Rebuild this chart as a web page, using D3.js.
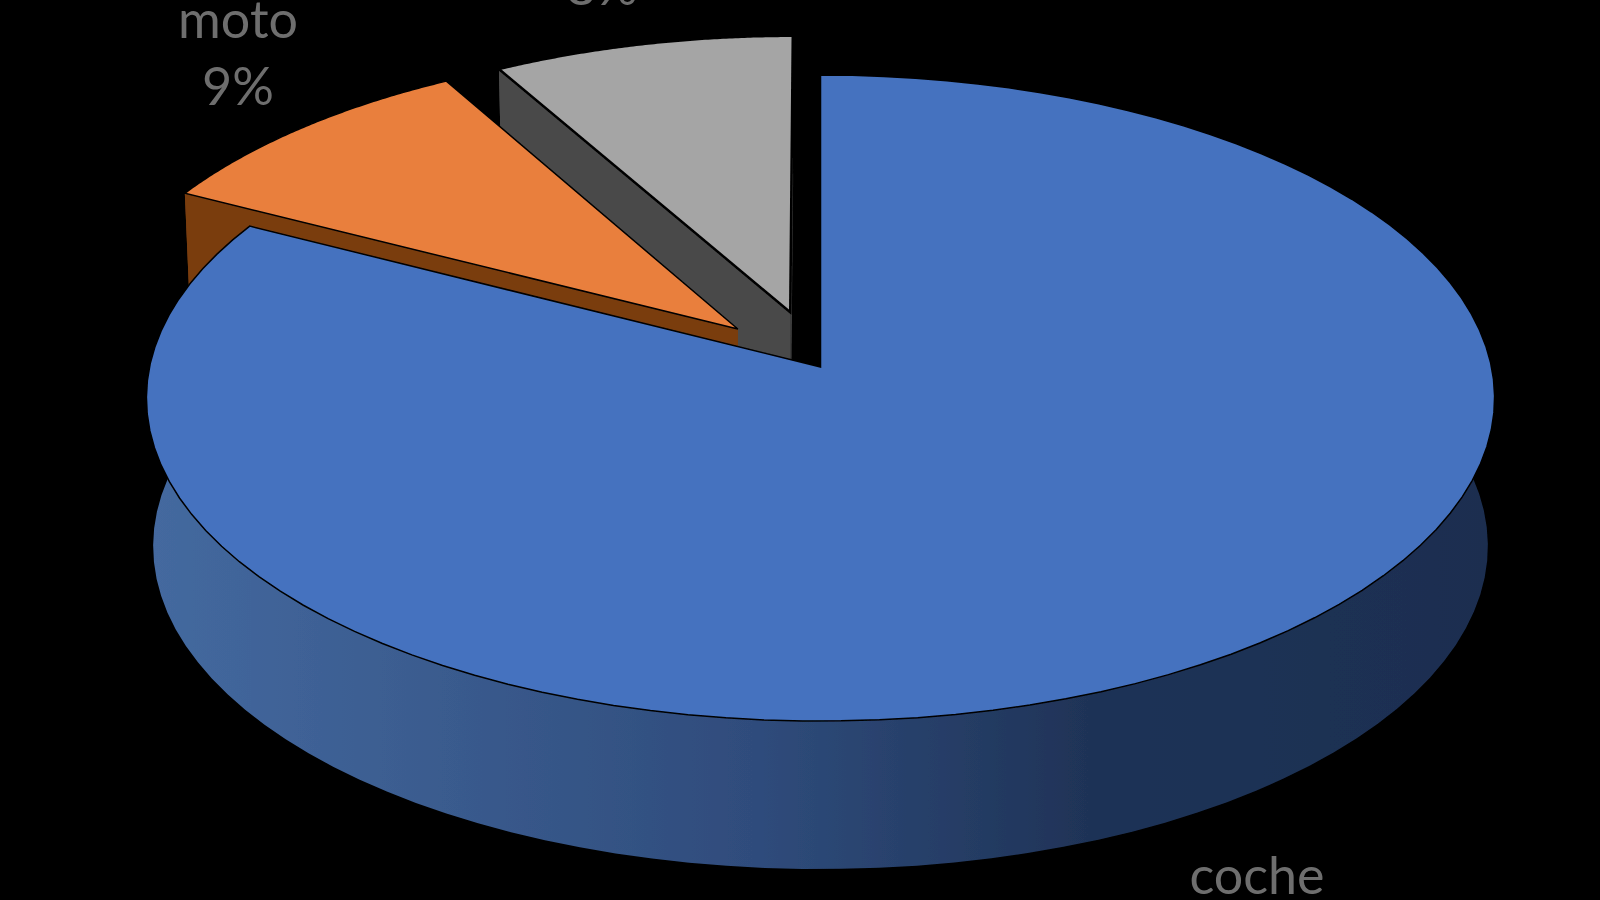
<!DOCTYPE html>
<html>
<head>
<meta charset="utf-8">
<script src="https://cdnjs.cloudflare.com/ajax/libs/d3/7.8.5/d3.min.js"></script>
<style>
  html, body { margin: 0; padding: 0; background: #000; overflow: hidden; }
  text { font-family: Lato, "Open Sans", sans-serif; fill: #6e6e6e; text-anchor: middle; }
</style>
</head>
<body>
<svg id="chart" width="1600" height="900"></svg>
<script>
// Values
const categories = ["coche", "moto", "otros"];
const shares = [82.6, 9.2, 8.2];
const percentLabels = ["83%", "9%", "8%"];

// Slice colours: top face and side wall
const topColors = ["#4472bf", "#e97f3c", "#a5a5a5"];
const wallColors = ["url(#wallBlue)", "#7a3d10", "#4a4a4a"];

// How far a slice is pulled out, and its radius, in units of the pie radius
const explode = [0, 0.173, 0.18];
const sliceRadius = [1, 0.985, 0.975];

// Perspective of the pie plane, fitted on the picture
const apexX = 820.5, apexY = 367;
const scaleX = 671, slopeY = -284.8, persp = 0.096;
const depth = 148, bottomShrink = 0.99;

function project(u, v) {
  const w = 1 + persp * v;
  return [apexX + scaleX * u / w, (apexY + slopeY * v) / w];
}

function lower(p) {
  return [apexX + (p[0] - apexX) * bottomShrink, p[1] + depth];
}

const svg = d3.select("#chart");
const defs = svg.append("defs");

// Side gradient of the blue wall
const grad = defs.append("linearGradient")
  .attr("id", "wallBlue")
  .attr("gradientUnits", "userSpaceOnUse")
  .attr("x1", 150).attr("x2", 1490).attr("y1", 0).attr("y2", 0);
grad.append("stop").attr("offset", "0%").attr("stop-color", "#44699f");
grad.append("stop").attr("offset", "45%").attr("stop-color", "#2f4c7c");
grad.append("stop").attr("offset", "70%").attr("stop-color", "#1f3357");
grad.append("stop").attr("offset", "100%").attr("stop-color", "#1b2e50");

// The picture is a soft scan, a small blur gets the same edges
defs.append("filter").attr("id", "soft")
  .attr("filterUnits", "userSpaceOnUse")
  .attr("x", 0).attr("y", 0).attr("width", 1600).attr("height", 900)
  .append("feGaussianBlur").attr("stdDeviation", 0.7);

const root = svg.append("g").attr("filter", "url(#soft)");

const pie = d3.pie().sort(null).value(d => d);
const arcs = pie(shares);

const line = d3.line();

function sliceGeometry(d, i) {
  const mid = (d.startAngle + d.endAngle) / 2;
  const offU = explode[i] * Math.sin(mid);
  const offV = explode[i] * Math.cos(mid);
  const r = sliceRadius[i];
  const steps = d3.range(0, 101).map(k => d.startAngle + (d.endAngle - d.startAngle) * k / 100);
  const rim = steps.map(a => project(offU + r * Math.sin(a), offV + r * Math.cos(a)));
  const apex = project(offU, offV);
  return { rim, apex };
}

// Painter's order: back slices first, coche last
d3.range(arcs.length - 1, -1, -1).forEach(i => {
  const geo = sliceGeometry(arcs[i], i);
  const g = root.append("g").attr("class", "slice " + categories[i]);

  // outer wall
  const wallRim = geo.rim.concat(geo.rim.map(lower).reverse());
  g.append("path")
    .attr("d", line(wallRim) + "Z")
    .attr("fill", wallColors[i]);

  // cut walls, only where they face the viewer
  [geo.rim[0], geo.rim[geo.rim.length - 1]].forEach(p => {
    const cut = [geo.apex, p, lower(p), lower(geo.apex)];
    g.append("path")
      .attr("d", line(cut) + "Z")
      .attr("fill", i === 0 ? "#2f4c7c" : wallColors[i]);
  });

  // top face
  g.append("path")
    .attr("d", line([geo.apex].concat(geo.rim)) + "Z")
    .attr("fill", topColors[i])
    .attr("stroke", "#000")
    .attr("stroke-width", i === 2 ? 2.5 : 1.5)
    .attr("stroke-linejoin", "miter");
});

// Labels, the rest of them fall outside the photographed area
root.append("text").attr("x", 238).attr("y", 38).attr("font-size", 52).text(categories[1]);
root.append("text").attr("x", 238).attr("y", 105).attr("font-size", 52).text(percentLabels[1]);
root.append("text").attr("x", 602).attr("y", 5).attr("font-size", 52).text(percentLabels[2]);
root.append("text").attr("x", 1257).attr("y", 894).attr("font-size", 52).text(categories[0]);
</script>
</body>
</html>
